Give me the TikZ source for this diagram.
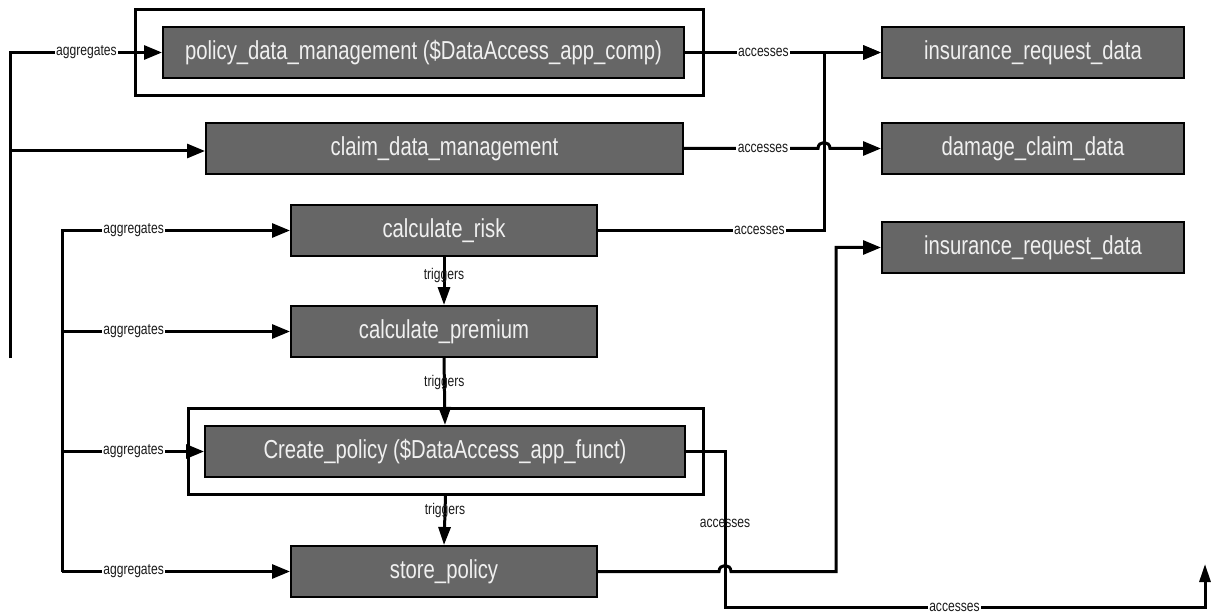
\documentclass[tikz,border=0pt]{standalone}
\usepackage{fontspec}
\setmainfont{Liberation Sans}[FakeStretch=0.78]
\usetikzlibrary{arrows.meta}
\definecolor{boxgray}{HTML}{666666}
\definecolor{boxtext}{HTML}{F0F0F0}
\definecolor{labtext}{HTML}{1A1A1A}
\begin{document}
\begin{tikzpicture}[x=1pt,y=-1pt,
  compbox/.style={draw=black, line width=2pt, fill=boxgray, text=boxtext,
    font=\fontsize{26}{29}\selectfont, inner sep=0pt, anchor=center},
  framebox/.style={draw=black, line width=3pt, fill=none, inner sep=0pt, anchor=center},
  conn/.style={line width=3pt, draw=black, line join=miter},
  arr/.style={conn, -{Triangle[length=18pt,width=14pt]}},
  varr/.style={conn, -{Triangle[length=18pt,width=12pt]}},
  hlab/.style={fill=white, text=labtext, font=\fontsize{15.5}{17}\selectfont, inner sep=1.5pt},
  vlab/.style={text=labtext, font=\fontsize{15.5}{17}\selectfont, inner sep=1pt}]
\useasboundingbox (0,0) rectangle (1212,612);

% frames
\node[framebox, minimum width=568pt, minimum height=86pt] (pdmframe) at (419,53) {};
\node[framebox, minimum width=515pt, minimum height=86pt] (cpframe) at (445.5,451) {};

% boxes
\node[compbox, minimum width=521pt, minimum height=51pt] (pdm) at (423.5,52.5) {policy\_data\_management (\$DataAccess\_app\_comp)};
\node[compbox, minimum width=477pt, minimum height=51pt] (cdm) at (444.5,148.5) {claim\_data\_management};
\node[compbox, minimum width=302pt, minimum height=51pt] (ird1) at (1033,52.5) {insurance\_request\_data};
\node[compbox, minimum width=302pt, minimum height=51pt] (dcd) at (1033,148.5) {damage\_claim\_data};
\node[compbox, minimum width=302pt, minimum height=51pt] (ird2) at (1033,247.5) {insurance\_request\_data};
\node[compbox, minimum width=306pt, minimum height=51pt] (risk) at (444,230.5) {calculate\_risk};
\node[compbox, minimum width=306pt, minimum height=51pt] (prem) at (444,331.5) {calculate\_premium};
\node[compbox, minimum width=480pt, minimum height=51pt] (cp) at (445,451.5) {Create\_policy (\$DataAccess\_app\_funct)};
\node[compbox, minimum width=306pt, minimum height=51pt] (store) at (444,571.5) {store\_policy};

% free ends
\coordinate (src1) at (10,358);
\coordinate (src2) at (62,571.5);
\coordinate (tipend) at (1205,564);

% aggregates (left group 1)
\draw[arr] (src1) -- (10,52.5) -- node[hlab, pos=0.503] {aggregates} (pdm.west);
\draw[arr] (src1) -- (10,151) -- (cdm.west |- 0,151);

% aggregates (left group 2)
\draw[arr] (src2) -- (62,230.5) -- node[hlab, pos=0.314] {aggregates} (risk.west);
\draw[arr] (src2) -- (62,331.5) -- node[hlab, pos=0.314] {aggregates} (prem.west);
\draw[arr] (src2) -- (62,451.5) -- node[hlab, pos=0.503] {aggregates} (cp.west);
\draw[arr] (src2) -- node[hlab, pos=0.314] {aggregates} (store.west);

% accesses (top right)
\draw[arr] (pdm.east) -- node[hlab, pos=0.4] {accesses} (ird1.west);
\draw[arr] (risk.east) -- node[hlab, pos=0.714] {accesses} (824,230.5) -- (824,52.5) -- (ird1.west);
\draw[arr] (cdm.east) -- node[hlab, pos=0.59] {accesses} (818,148.5)
  .. controls (818,140.5) and (830,140.5) .. (830,148.5) -- (dcd.west);

% triggers
\draw[varr] (risk.south) -- node[vlab, pos=0.38] {triggers} (prem.north);
\draw[varr] (prem.south) -- node[vlab, pos=0.36] {triggers} (cp.north);
\draw[varr] (cpframe.south) -- node[vlab, pos=0.31] {triggers} (store.north);

% accesses (bottom)
\draw[arr] (store.east) -- (719,571.5)
  .. controls (719,563.5) and (731,563.5) .. (731,571.5) -- (836,571.5) -- (836,247.5) -- (ird2.west);
\draw[conn, -{Triangle[length=18pt,width=11pt]}] (cp.east) -- (725,451.5) -- node[vlab, pos=0.465] {accesses} (725,607)
  -- node[hlab, pos=0.478] {accesses} (1205,607) -- (tipend);
\end{tikzpicture}
\end{document}
